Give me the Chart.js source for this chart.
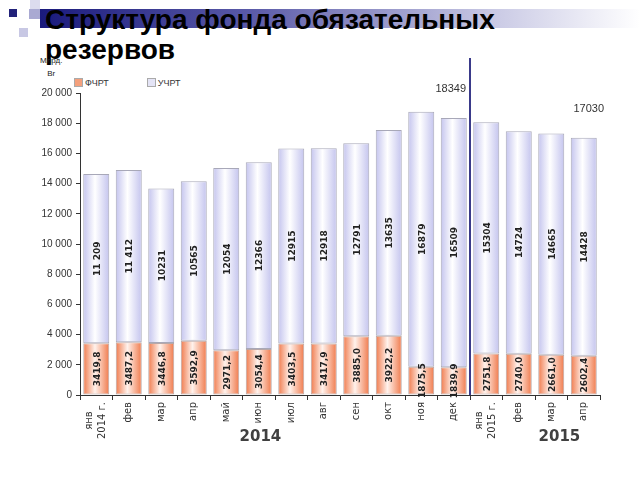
<!DOCTYPE html>
<html lang="ru">
<head>
<meta charset="utf-8">
<title>Структура фонда обязательных резервов</title>
<script src="https://cdn.jsdelivr.net/npm/chart.js@4.4.0/dist/chart.umd.min.js"></script>
<style>
    body { margin: 0; background: #fff; }
    #wrap { position: relative; width: 640px; height: 480px; overflow: hidden; font-family: "Liberation Sans", Arial, sans-serif; }
    #band { position: absolute; left: 40px; top: 9px; width: 600px; height: 19px;
            background: linear-gradient(to right, #1a1a7c 0%, #5a5aa8 35%, #c8c8e4 75%, #ffffff 100%); }
    .sq { position: absolute; }
    #title { position: absolute; left: 45px; top: 5px; font-weight: bold; font-size: 28px; line-height: 30px; color: #000; }
    #unit { position: absolute; left: 40px; top: 54px; font-size: 8px; line-height: 13px; color: #222; text-align: center; }
    #legend { position: absolute; left: 74px; top: 78px; font-size: 9px; color: #333; }
    #legend span.box { display: inline-block; width: 7px; height: 7px; border: 1px solid #aaa; vertical-align: -1px; margin-right: 2px; }
    #legend span.item { margin-right: 38px; }
    canvas { position: absolute; left: 0; top: 0; }
</style>
</head>
<body>
<div id="wrap">
    <div id="band"></div>
    <div class="sq" style="left:9px;top:9px;width:8px;height:8px;background:#22227a"></div>
    <div class="sq" style="left:30px;top:0px;width:10px;height:9px;background:#dcdcee"></div>
    <div class="sq" style="left:29px;top:9px;width:11px;height:10px;background:#a9a9d2"></div>
    <div class="sq" style="left:19px;top:28px;width:9px;height:9px;background:#c8c8e4"></div>
    <div id="title">Структура фонда обязательных<br>резервов</div>
    <div id="unit">Млрд.<br>Br</div>
    <div id="legend"></div>
    <canvas id="chart" width="640" height="480"></canvas>
</div>
<script>
// Data
var months = [['янв', '2014 г.'], 'фев', 'мар', 'апр', 'май', 'июн', 'июл', 'авг', 'сен', 'окт', 'ноя', 'дек',
              ['янв', '2015 г.'], 'фев', 'мар', 'апр'];
var fchrt = [3419.8, 3487.2, 3446.8, 3592.9, 2971.2, 3054.4, 3403.5, 3417.9, 3885.0, 3922.2, 1875.5, 1839.9,
             2751.8, 2740.0, 2661.0, 2602.4];
var uchrt = [11209, 11412, 10231, 10565, 12054, 12366, 12915, 12918, 12791, 13635, 16879, 16509,
             15304, 14724, 14665, 14428];
var seriesNames = ['ФЧРТ', 'УЧРТ'];
var yearLabels = ['2014', '2015'];
var yTicks = [0, 2000, 4000, 6000, 8000, 10000, 12000, 14000, 16000, 18000, 20000];
// totals shown above these months (dec 2014, apr 2015)
var totalIdx = [11, 15];

function fmtNum(v, dec) {
    var s = dec ? v.toFixed(1).replace('.', ',') : String(v);
    return s;
}
function fmtThousands(v) {
    return String(v).replace(/\B(?=(\d{3})+(?!\d))/g, ' ');
}

// horizontal gradient across each bar (edge - light centre - edge)
function barFill(edge, mid) {
    return function(ctx) {
        var chart = ctx.chart;
        var xs = chart.scales.x;
        if (!xs || ctx.type !== 'data' || !chart.chartArea) return edge;
        var cx = xs.getPixelForValue(ctx.dataIndex);
        var w = 13;
        var g = chart.ctx.createLinearGradient(cx - w, 0, cx + w, 0);
        g.addColorStop(0, edge);
        g.addColorStop(0.45, mid);
        g.addColorStop(1, edge);
        return g;
    };
}

// legend (html)
var legendColors = ['#f4a07c', '#e4e4f6'];
document.getElementById('legend').innerHTML = seriesNames.map(function(n, i) {
    return '<span class="item"><span class="box" style="background:' + legendColors[i] + '"></span>' + n + '</span>';
}).join('');

// labels, year captions, divider line
var decorPlugin = {
    id: 'decor',
    afterDatasetsDraw: function(chart) {
        var c = chart.ctx;
        var xs = chart.scales.x, ys = chart.scales.y;
        c.save();
        // values inside bars
        c.font = 'bold 9px "DejaVu Sans"';
        c.fillStyle = '#222';
        c.textAlign = 'center';
        c.textBaseline = 'middle';
        chart.data.datasets.forEach(function(ds, di) {
            chart.getDatasetMeta(di).data.forEach(function(el, i) {
                var v = ds.data[i];
                var txt = di === 0 ? fmtNum(v, true) : (v >= 11000 && v < 12000 ? fmtThousands(v) : String(v));
                c.save();
                c.translate(el.x + 1, (el.y + el.base) / 2);
                c.rotate(-Math.PI / 2);
                c.fillText(txt, 0, 0);
                c.restore();
            });
        });
        // month labels (rotated)
        c.font = '10px "DejaVu Sans"';
        c.fillStyle = '#333';
        months.forEach(function(m, i) {
            var lines = Array.isArray(m) ? m : [m];
            var x = xs.getPixelForValue(i);
            var y = chart.chartArea.bottom + 7;
            c.save();
            c.translate(x, y);
            c.rotate(-Math.PI / 2);
            c.textAlign = 'right';
            var wmax = Math.max.apply(null, lines.map(function(l) { return c.measureText(l).width; }));
            lines.forEach(function(l, k) {
                var off = (wmax - c.measureText(l).width) / 2;
                c.fillText(l, -off, (k - (lines.length - 1) / 2) * 13);
            });
            c.restore();
        });
        // year captions
        c.font = 'bold 15px "DejaVu Sans"';
        c.fillStyle = '#404040';
        c.textAlign = 'center';
        c.fillText(yearLabels[0], xs.getPixelForValue(5.05), 437);
        c.fillText(yearLabels[1], xs.getPixelForValue(14.25), 437);
        // divider between 2014 and 2015
        var xd = (xs.getPixelForValue(11) + xs.getPixelForValue(12)) / 2;
        c.strokeStyle = '#3a3a8a';
        c.lineWidth = 2;
        c.beginPath();
        c.moveTo(xd, 58);
        c.lineTo(xd, chart.chartArea.bottom);
        c.stroke();
        // totals
        c.font = '11px "Liberation Sans"';
        c.fillStyle = '#333';
        totalIdx.forEach(function(i) {
            var tot = Math.round(fchrt[i] + uchrt[i]);
            var y = ys.getPixelForValue(tot) - 29;
            c.fillText(String(tot), xs.getPixelForValue(i) - 3 + (i === 15 ? 8 : 0), y);
        });
        c.restore();
    }
};

new Chart(document.getElementById('chart'), {
    type: 'bar',
    data: {
        labels: months,
        datasets: [
            {
                label: seriesNames[0],
                data: fchrt,
                backgroundColor: barFill('#f07a4c', '#fff2ec'),
                borderColor: '#b8a8a8',
                borderWidth: 1,
                borderSkipped: false
            },
            {
                label: seriesNames[1],
                data: uchrt,
                backgroundColor: barFill('#c4c4ee', '#ffffff'),
                borderColor: '#a8a8b8',
                borderWidth: 1,
                borderSkipped: false
            }
        ]
    },
    options: {
        responsive: false,
        animation: false,
        layout: { padding: { left: 0, top: 93, right: 40, bottom: 80 } },
        plugins: { legend: { display: false }, tooltip: { enabled: false } },
        datasets: { bar: { barPercentage: 0.8, categoryPercentage: 1 } },
        scales: {
            x: {
                stacked: true,
                ticks: { display: false },
                grid: { offset: true, drawOnChartArea: false, drawTicks: true, tickLength: 5, color: '#333' },
                border: { color: '#333', width: 1 },
                afterFit: function(s) { s.height = 5; }
            },
            y: {
                stacked: true,
                min: 0,
                max: 20000,
                afterBuildTicks: function(s) { s.ticks = yTicks.map(function(v) { return { value: v }; }); },
                ticks: {
                    color: '#333',
                    font: { family: '"Liberation Sans"', size: 10 },
                    padding: 4,
                    callback: function(v) { return fmtThousands(v); }
                },
                grid: { drawOnChartArea: false, drawTicks: true, tickLength: 4, color: '#333' },
                border: { color: '#333', width: 1 },
                afterFit: function(s) { s.width = 80; }
            }
        }
    },
    plugins: [decorPlugin]
});
</script>
</body>
</html>
